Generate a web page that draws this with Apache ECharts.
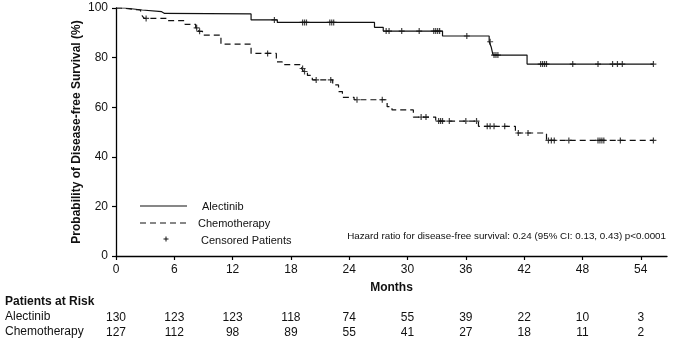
<!DOCTYPE html>
<html>
<head>
<meta charset="utf-8">
<script src="https://cdn.jsdelivr.net/npm/echarts@6/dist/echarts.min.js"></script>
<style>
html,body{margin:0;padding:0;background:#fff;}
#chart{width:673px;height:342px;}
</style>
</head>
<body>
<div id="chart"></div>
<script>
// ---- Data ----
const alecSteps = [[0,100],[0.9,99.2],[2.7,98.5],[4.7,97.8],[5.0,97.6],[13.9,95.2],[16.6,94.2],[26.6,92.2],[27.5,90.7],[33.6,88.7],[38.4,86.4],[38.6,84.4],[38.8,81.0],[42.3,77.4],[55.3,77.4]];
const alecCensor = [16.3,19.2,19.4,19.6,22.0,22.2,22.4,27.8,28.1,29.4,31.2,32.7,32.9,33.1,33.3,36.1,38.5,38.9,39.1,39.3,43.7,43.9,44.1,44.3,47.0,49.6,51.1,51.6,52.1,55.3];
const chemoSteps = [[0,100],[0.5,99.2],[2.5,98.4],[2.7,96.8],[2.9,95.8],[5.2,94.9],[7.1,93.4],[8.2,92.0],[8.5,90.6],[8.9,89.1],[10.8,85.4],[13.9,81.7],[16.5,78.3],[17.1,77.2],[19.1,75.6],[19.3,74.4],[19.7,72.8],[20.2,71.0],[22.3,69.0],[22.9,66.3],[23.3,64.0],[24.5,63.0],[27.9,60.2],[28.4,58.9],[30.6,56.0],[32.9,54.4],[37.3,52.3],[41.1,49.6],[44.3,46.6],[55.3,46.6]];
const chemoCensor = [3.1,8.3,8.6,15.6,19.2,19.4,20.6,22.1,24.8,27.4,31.4,31.9,33.2,33.4,33.6,34.3,36.0,37.1,38.2,38.5,38.9,40.0,41.4,42.4,44.5,44.8,45.1,46.6,49.6,49.8,50.0,50.2,51.9,55.3];
const xTicks = [0,6,12,18,24,30,36,42,48,54];
const yTicks = [0,20,40,60,80,100];
const riskAlec = [130,123,123,118,74,55,39,22,10,3];
const riskChemo = [127,112,98,89,55,41,27,18,11,2];

// survival value of a step curve at time t (for placing censor marks on it)
function survAt(steps, t){ let s = steps[0][1]; for (const p of steps){ if (p[0] <= t) s = p[1]; } return s; }
const alecCensorPts = alecCensor.map(t => [t, survAt(alecSteps, t)]);
const chemoCensorPts = chemoCensor.map(t => [t, survAt(chemoSteps, t)]);

const FONT = 'Liberation Sans, Arial, sans-serif';
const XMAX = 56.7;
const plus = 'path://M4,0H6V4H10V6H6V10H4V6H0V4H4Z';

function riskAxis(values, offset){
  return {
    type:'value', min:0, max:XMAX, position:'bottom', offset:offset,
    axisLine:{show:false}, axisTick:{show:false}, splitLine:{show:false},
    axisLabel:{customValues:xTicks, margin:8, fontFamily:FONT, fontSize:12, color:'#111',
      formatter:v => { const i = xTicks.indexOf(v); return i>=0 ? String(values[i]) : ''; }}
  };
}

const chart = echarts.init(document.getElementById('chart'), null, {renderer:'canvas'});
chart.setOption({
  animation:false,
  backgroundColor:'#fff',
  grid:{left:116, right:6, top:8, bottom:86},
  xAxis:[{
    type:'value', min:0, max:XMAX,
    name:'Months', nameLocation:'middle', nameGap:26, nameMoveOverlap:false,
    nameTextStyle:{fontFamily:FONT, fontSize:12, fontWeight:'bold', color:'#111', verticalAlign:'top'},
    axisLine:{lineStyle:{color:'#000', width:1.3}},
    axisTick:{customValues:xTicks, length:4, lineStyle:{color:'#000', width:1.2}},
    axisLabel:{customValues:xTicks, margin:8, fontFamily:FONT, fontSize:12, color:'#111'},
    splitLine:{show:false}
  }, riskAxis(riskAlec, 48), riskAxis(riskChemo, 63)],
  yAxis:{
    type:'value', min:0, max:100, interval:20,
    name:'Probability of Disease-free Survival (%)', nameLocation:'middle', nameGap:33, nameMoveOverlap:false,
    nameTextStyle:{fontFamily:FONT, fontSize:12, fontWeight:'bold', color:'#111'},
    axisLine:{show:true, lineStyle:{color:'#000', width:1.3}},
    axisTick:{show:true, length:4, lineStyle:{color:'#000', width:1.2}},
    axisLabel:{margin:8, fontFamily:FONT, fontSize:12, color:'#111'},
    splitLine:{show:false}
  },
  series:[
    {type:'line', step:'end', data:alecSteps, showSymbol:false, symbol:'none',
      lineStyle:{color:'#111', width:1.2}},
    {type:'line', step:'end', data:chemoSteps, showSymbol:false, symbol:'none',
      lineStyle:{color:'#111', width:1.2, type:[6,4]}},
    {type:'scatter', data:alecCensorPts, symbol:plus, symbolSize:6, itemStyle:{color:'#111'}},
    {type:'scatter', data:chemoCensorPts, symbol:plus, symbolSize:6, itemStyle:{color:'#111'}}
  ],
  graphic:[
    {type:'line', shape:{x1:140, y1:206, x2:187, y2:206}, style:{stroke:'#111', lineWidth:1.2}},
    {type:'line', shape:{x1:140, y1:223, x2:187, y2:223}, style:{stroke:'#111', lineWidth:1.2, lineDash:[6,4]}},
    {type:'line', shape:{x1:163.5, y1:239, x2:168.5, y2:239}, style:{stroke:'#111', lineWidth:1}},
    {type:'line', shape:{x1:166, y1:236.5, x2:166, y2:241.5}, style:{stroke:'#111', lineWidth:1}},
    {type:'text', x:202, y:207, style:{text:'Alectinib', font:'11px '+FONT, fill:'#111', verticalAlign:'middle'}},
    {type:'text', x:198, y:224, style:{text:'Chemotherapy', font:'11px '+FONT, fill:'#111', verticalAlign:'middle'}},
    {type:'text', x:201, y:241, style:{text:'Censored Patients', font:'11px '+FONT, fill:'#111', verticalAlign:'middle'}},
    {type:'text', x:666, y:236, style:{text:'Hazard ratio for disease-free survival: 0.24 (95% CI: 0.13, 0.43) p<0.0001', font:'9.8px '+FONT, fill:'#111', align:'right', verticalAlign:'middle'}},
    {type:'text', x:5, y:302, style:{text:'Patients at Risk', font:'bold 12px '+FONT, fill:'#111', verticalAlign:'middle'}},
    {type:'text', x:5, y:317, style:{text:'Alectinib', font:'12px '+FONT, fill:'#111', verticalAlign:'middle'}},
    {type:'text', x:5, y:332, style:{text:'Chemotherapy', font:'12px '+FONT, fill:'#111', verticalAlign:'middle'}}
  ]
});
</script>
</body>
</html>
